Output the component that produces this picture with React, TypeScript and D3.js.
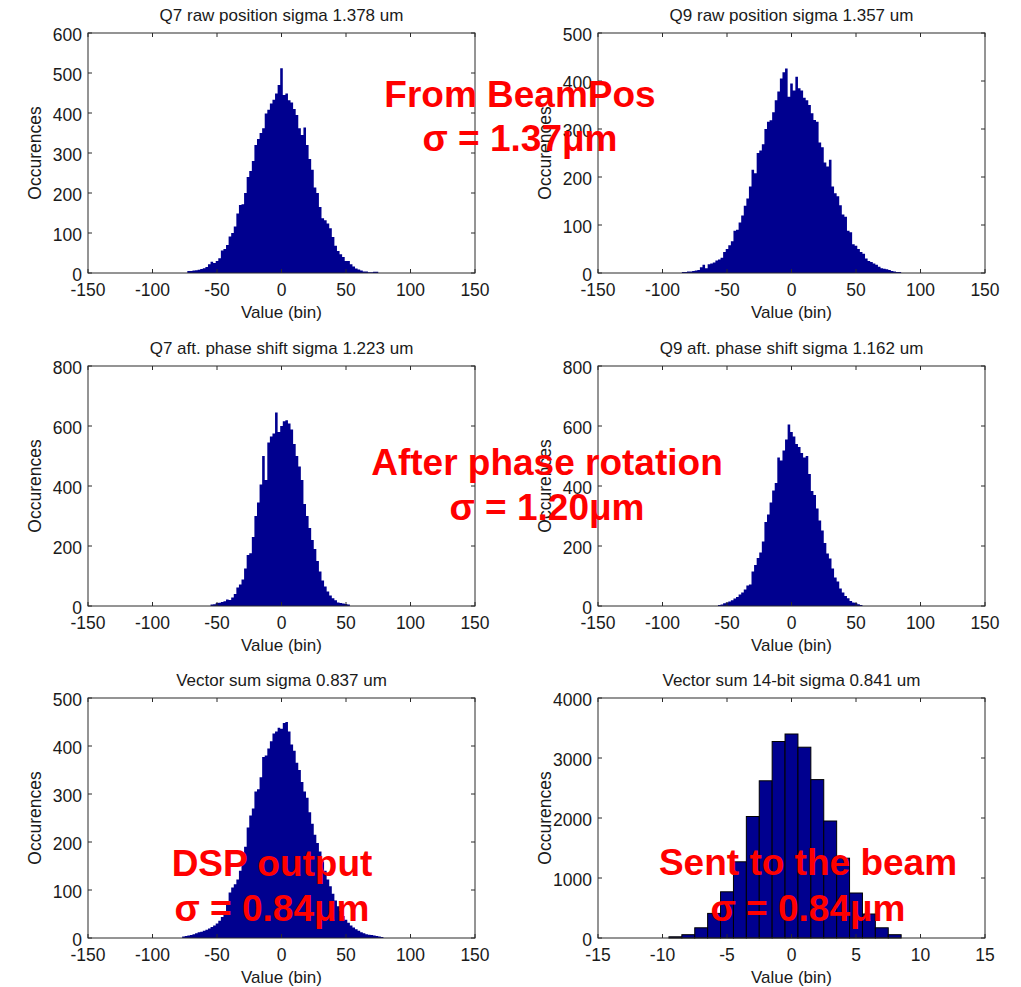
import React from "react";
import * as d3 from "d3";

const FONT = "'Liberation Sans', Arial, Helvetica, sans-serif";
const BAR_COLOR = "#00008F";
const AXIS_COLOR = "#2b2b2b";
const TEXT_COLOR = "#1a1a1a";

// ---------- tick values ----------
const xTicksWide = [-150, -100, -50, 0, 50, 100, 150];
const xTicksNarrow = [-15, -10, -5, 0, 5, 10, 15];
const yTicks600 = [0, 100, 200, 300, 400, 500, 600];
const yTicks500 = [0, 100, 200, 300, 400, 500];
const yTicks800 = [0, 200, 400, 600, 800];
const yTicks4000 = [0, 1000, 2000, 3000, 4000];

// ---------- titles ----------
const titles = [
  "Q7 raw position sigma 1.378 um",
  "Q9 raw position sigma 1.357 um",
  "Q7 aft. phase shift sigma 1.223 um",
  "Q9 aft. phase shift sigma 1.162 um",
  "Vector sum sigma 0.837 um",
  "Vector sum 14-bit sigma 0.841 um",
];
const xLabel = "Value (bin)";
const yLabel = "Occurences";

// ---------- histogram data (bin width 2 for fine ones) ----------
const fineBinWidth = 2;

const q7RawStart = -72;
const q7RawCounts = [
  5, 5, 6, 7, 8, 10, 12, 15, 22, 28,
  25, 30, 37, 56, 60, 70, 91, 100, 116, 149,
  170, 172, 200, 240, 255, 280, 320, 335, 350, 362,
  399, 408, 424, 433, 449, 470, 512, 445, 449, 432,
  426, 410, 395, 362, 345, 364, 320, 285, 258, 214,
  200, 165, 137, 132, 124, 112, 90, 68, 55, 47,
  40, 30, 30, 22, 16, 11, 9, 6, 4, 4,
  2, 2, 3, 3,
];

const q9RawStart = -84;
const q9RawCounts = [
  2, 2, 3, 3, 4, 5, 6, 12, 17, 10,
  18, 20, 22, 26, 28, 32, 44, 50, 58, 66,
  88, 90, 105, 120, 140, 155, 180, 215, 208, 250,
  255, 268, 300, 315, 318, 335, 360, 378, 405, 418,
  426, 367, 395, 380, 409, 385, 380, 365, 360, 350,
  333, 319, 315, 272, 262, 230, 222, 236, 180, 166,
  160, 141, 122, 117, 88, 85, 60, 57, 50, 44,
  40, 30, 25, 23, 20, 17, 13, 10, 9, 8,
  6, 4, 3, 2, 2,
];

const q7PhaseStart = -54;
const q7PhaseCounts = [
  5, 6, 10, 11, 13, 16, 22, 20, 28, 40,
  62, 72, 88, 125, 170, 176, 230, 300, 345, 405,
  500, 420, 545, 565, 575, 645, 580, 600, 616, 619,
  608, 588, 540, 500, 465, 420, 340, 300, 260, 220,
  190, 150, 115, 85, 65, 48, 35, 26, 19, 12,
  10, 8, 7, 5,
];

const q9PhaseStart = -56;
const q9PhaseCounts = [
  3, 5, 9, 12, 15, 19, 25, 30, 38, 45,
  55, 68, 72, 115, 137, 160, 178, 215, 280, 305,
  345, 385, 410, 495, 485, 518, 555, 605, 580, 565,
  540, 530, 510, 495, 500, 440, 383, 370, 325, 285,
  252, 210, 175, 158, 125, 95, 82, 58, 45, 33,
  26, 17, 12, 10, 6, 3,
];

const vecSumStart = -76;
const vecSumCounts = [
  3, 4, 5, 6, 8, 10, 12, 13, 15, 17,
  20, 23, 26, 30, 36, 44, 55, 70, 95, 105,
  112, 122, 140, 158, 190, 230, 255, 270, 305, 310,
  335, 377, 380, 395, 410, 426, 430, 438, 436, 448,
  450, 430, 403, 390, 365, 350, 325, 305, 292, 262,
  238, 215, 198, 180, 160, 140, 122, 108, 92, 78,
  66, 56, 46, 38, 32, 26, 22, 18, 15, 12,
  10, 8, 7, 6, 5, 4, 3, 2,
];

const vec14Centers = [-9, -8, -7, -6, -5, -4, -3, -2, -1, 0, 1, 2, 3, 4, 5, 6, 7, 8];
const vec14Counts = [20, 55, 170, 410, 770, 1270, 2025, 2620, 3275, 3400, 3180, 2640, 1950, 1330, 750, 400, 170, 55];

// ---------- annotations ----------
const annotations = [
  { lines: ["From BeamPos", "σ = 1.37μm"], x: 520, y: [107, 151] },
  { lines: ["After phase rotation", "σ = 1.20μm"], x: 547, y: [475, 520] },
  { lines: ["DSP output", "σ = 0.84μm"], x: 272, y: [876, 921] },
  { lines: ["Sent to the beam", "σ = 0.84μm"], x: 808, y: [875, 921] },
];

// ---------- layout ----------
const colLeft = [88, 598];
const rowTop = [33, 366, 698];
const plotW = 387;
const plotH = 240;

const centersFrom = (start: number, n: number, w: number) => d3.range(n).map((i) => start + i * w);

type PanelSpec = {
  left: number;
  top: number;
  title: string;
  xDomain: [number, number];
  xTicks: number[];
  yDomain: [number, number];
  yTicks: number[];
  centers: number[];
  counts: number[];
  binWidth: number;
  outlined: boolean;
};

const panels: PanelSpec[] = [
  { left: colLeft[0], top: rowTop[0], title: titles[0], xDomain: [-150, 150], xTicks: xTicksWide, yDomain: [0, 600], yTicks: yTicks600,
    centers: centersFrom(q7RawStart, q7RawCounts.length, fineBinWidth), counts: q7RawCounts, binWidth: fineBinWidth, outlined: false },
  { left: colLeft[1], top: rowTop[0], title: titles[1], xDomain: [-150, 150], xTicks: xTicksWide, yDomain: [0, 500], yTicks: yTicks500,
    centers: centersFrom(q9RawStart, q9RawCounts.length, fineBinWidth), counts: q9RawCounts, binWidth: fineBinWidth, outlined: false },
  { left: colLeft[0], top: rowTop[1], title: titles[2], xDomain: [-150, 150], xTicks: xTicksWide, yDomain: [0, 800], yTicks: yTicks800,
    centers: centersFrom(q7PhaseStart, q7PhaseCounts.length, fineBinWidth), counts: q7PhaseCounts, binWidth: fineBinWidth, outlined: false },
  { left: colLeft[1], top: rowTop[1], title: titles[3], xDomain: [-150, 150], xTicks: xTicksWide, yDomain: [0, 800], yTicks: yTicks800,
    centers: centersFrom(q9PhaseStart, q9PhaseCounts.length, fineBinWidth), counts: q9PhaseCounts, binWidth: fineBinWidth, outlined: false },
  { left: colLeft[0], top: rowTop[2], title: titles[4], xDomain: [-150, 150], xTicks: xTicksWide, yDomain: [0, 500], yTicks: yTicks500,
    centers: centersFrom(vecSumStart, vecSumCounts.length, fineBinWidth), counts: vecSumCounts, binWidth: fineBinWidth, outlined: false },
  { left: colLeft[1], top: rowTop[2], title: titles[5], xDomain: [-15, 15], xTicks: xTicksNarrow, yDomain: [0, 4000], yTicks: yTicks4000,
    centers: vec14Centers, counts: vec14Counts, binWidth: 1, outlined: true },
];

function Panel({ p }: { p: PanelSpec }) {
  const x = d3.scaleLinear().domain(p.xDomain).range([p.left, p.left + plotW]);
  const y = d3.scaleLinear().domain(p.yDomain).range([p.top + plotH, p.top]);
  const bottom = p.top + plotH;
  const right = p.left + plotW;
  const hw = p.binWidth / 2;
  const TL = 4;

  let marks: React.ReactNode;
  if (p.outlined) {
    marks = p.centers.map((c, i) => (
      <rect
        key={i}
        x={x(c - hw)}
        y={y(p.counts[i])}
        width={x(c + hw) - x(c - hw)}
        height={y(0) - y(p.counts[i])}
        fill={BAR_COLOR}
        stroke="#000"
        strokeWidth={1}
      />
    ));
  } else {
    const path = d3.path();
    path.moveTo(x(p.centers[0] - hw), y(0));
    p.centers.forEach((c, i) => {
      path.lineTo(x(c - hw), y(p.counts[i]));
      path.lineTo(x(c + hw), y(p.counts[i]));
    });
    path.lineTo(x(p.centers[p.centers.length - 1] + hw), y(0));
    path.closePath();
    marks = <path d={path.toString()} fill={BAR_COLOR} stroke="none" />;
  }

  return (
    <g fontFamily={FONT} fill={TEXT_COLOR}>
      {marks}
      <rect x={p.left} y={p.top} width={plotW} height={plotH} fill="none" stroke={AXIS_COLOR} strokeWidth={1} />
      {p.xTicks.map((t) => (
        <g key={"x" + t}>
          <line x1={x(t)} x2={x(t)} y1={bottom} y2={bottom - TL} stroke={AXIS_COLOR} />
          <line x1={x(t)} x2={x(t)} y1={p.top} y2={p.top + TL} stroke={AXIS_COLOR} />
          <text x={x(t)} y={bottom + 23} textAnchor="middle" fontSize={17.5}>
            {t}
          </text>
        </g>
      ))}
      {p.yTicks.map((t) => (
        <g key={"y" + t}>
          <line x1={p.left} x2={p.left + TL} y1={y(t)} y2={y(t)} stroke={AXIS_COLOR} />
          <line x1={right} x2={right - TL} y1={y(t)} y2={y(t)} stroke={AXIS_COLOR} />
          <text x={p.left - 6} y={y(t) + 8} textAnchor="end" fontSize={17.5}>
            {t}
          </text>
        </g>
      ))}
      <text x={(p.left + right) / 2} y={p.top - 12} textAnchor="middle" fontSize={17}>
        {p.title}
      </text>
      <text x={(p.left + right) / 2} y={bottom + 45} textAnchor="middle" fontSize={17}>
        {xLabel}
      </text>
      <text
        transform={`translate(${p.left - 47},${(p.top + bottom) / 2}) rotate(-90)`}
        textAnchor="middle"
        fontSize={17.5}
      >
        {yLabel}
      </text>
    </g>
  );
}

export default function App() {
  return (
    <svg
      width={1021}
      height={987}
      style={{ position: "absolute", left: 0, top: 0, background: "#fff" }}
    >
      <rect x={0} y={0} width={1021} height={987} fill="#fff" />
      {panels.map((p, i) => (
        <Panel key={i} p={p} />
      ))}
      {annotations.map((a, i) => (
        <g key={i} fontFamily={FONT} fontWeight="bold" fontSize={37} fill="#FF0000" textAnchor="middle">
          {a.lines.map((l, j) => (
            <text key={j} x={a.x} y={a.y[j]}>
              {l}
            </text>
          ))}
        </g>
      ))}
    </svg>
  );
}
